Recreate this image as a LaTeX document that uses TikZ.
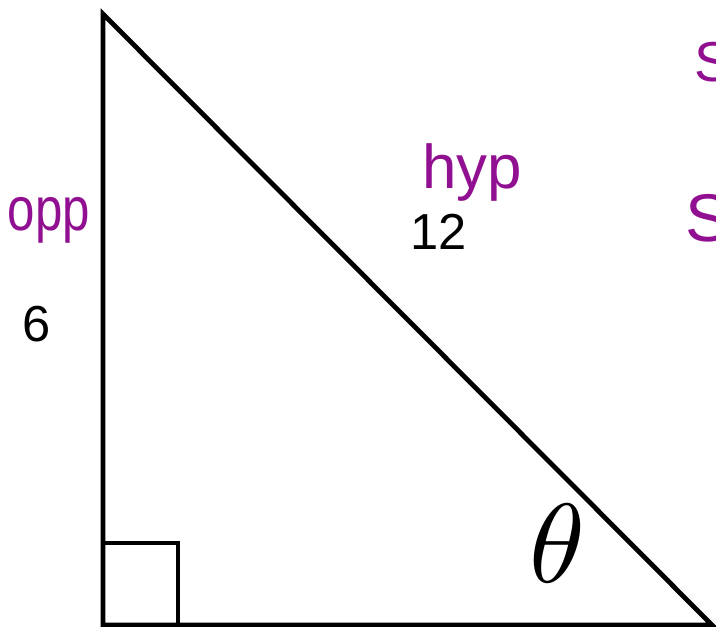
\documentclass[tikz,border=0pt]{standalone}
\usepackage{fontspec}
\setmainfont{Liberation Sans}
\usetikzlibrary{positioning,calc}
\definecolor{ink}{RGB}{145,15,145}
\tikzset{every picture/.style={line width=0.75pt}}

\begin{document}
\begin{tikzpicture}[x=0.025cm,y=-0.025cm,
    side/.style={line width=3.4pt, line join=miter},
    num/.style={inner sep=0pt, font=\fontsize{36pt}{40pt}\selectfont},
    hand/.style={inner sep=0pt, text=ink, font=\fontsize{40pt}{44pt}\selectfont}]
    \useasboundingbox (0,0) rectangle (716,626);

    % 三角形顶点
    \coordinate (top) at (103,14);
    \coordinate (rt) at (103,625);
    \coordinate (far) at (712,625);
    \draw[side] (top) -- (rt) -- (far) -- cycle;

    % 直角标记
    \draw[line width=3.2pt] (103,543) -| (178,625);

    % 边长
    \node[num] (opplen) at (37,324) {6};
    \node[num] (hyplen) at (439,232) {12};

    % 角
    \node[scale=8, inner sep=0pt] (ang) at (557,543) {$\theta$};

    % 手写标注
    \node[hand, font=\fontsize{35pt}{40pt}\selectfont, yscale=1.25] (opp) at (49,220) {opp};
    \node[hand, font=\fontsize{44pt}{48pt}\selectfont] (hyp) at (472,172) {hyp};
    \node[hand, anchor=west] (s1) at (694,62) {S};
    \node[hand, anchor=west, font=\fontsize{48pt}{52pt}\selectfont] (s2) at (685,218) {S};
\end{tikzpicture}
\end{document}
